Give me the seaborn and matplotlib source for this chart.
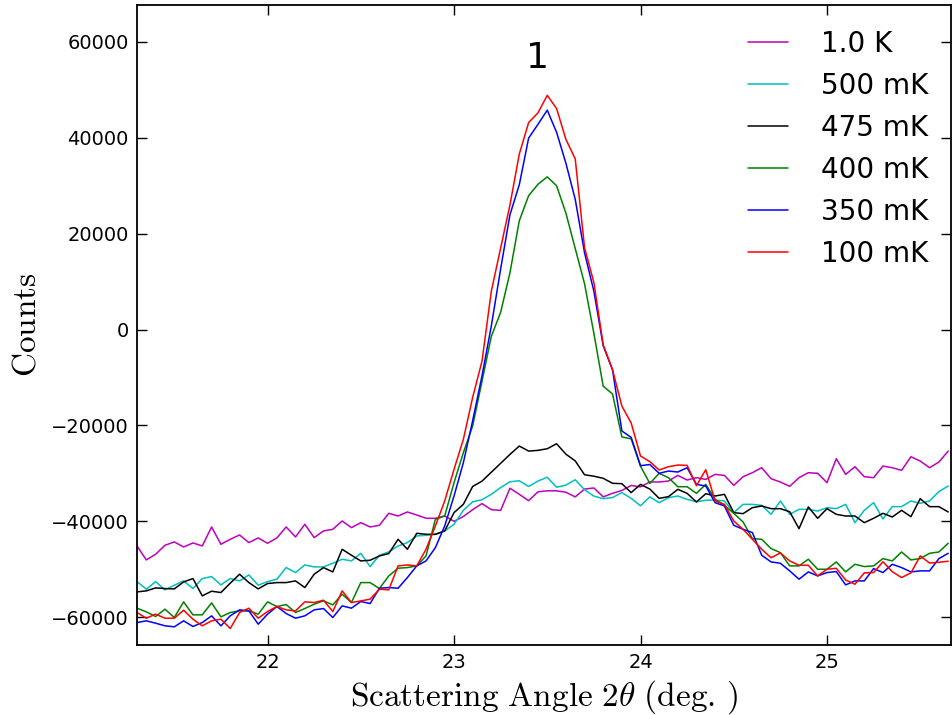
import numpy as np
import pandas as pd
import seaborn as sns
import matplotlib
matplotlib.use("Agg")
import matplotlib.pyplot as plt

# scattering angle grid (deg.), 0.05 deg steps
angle = np.round(np.arange(88) * 0.05 + 21.30, 2)

labels = ['1.0 K', '500 mK', '475 mK', '400 mK', '350 mK', '100 mK']
colors = ['m', 'c', 'k', 'g', 'b', 'r']

t_1000 = [-45140, -48050, -46870, -45000, -44300, -45350, -44510, -45140, -41180, -44790,
          -43750, -42850, -44440, -43470, -44580, -43470, -41180, -43260, -40620, -43400,
          -42010, -41670, -39930, -41320, -40280, -41180, -40830, -38330, -38890, -38050,
          -38680, -39370, -39370, -38890, -40000, -39000, -37570, -36300, -37570, -37720,
          -33100, -34370, -35700, -33850, -33640, -33640, -33940, -34900, -33270, -33050,
          -34900, -34160, -33570, -32520, -32820, -31780, -31800, -31600, -30420, -31390,
          -30900, -31250, -30210, -30420, -32500, -30690, -29860, -28820, -31110, -31800,
          -32700, -30900, -29860, -29990, -31940, -26940, -30210, -28610, -30690, -30900,
          -28470, -28820, -29370, -26530, -27430, -28820, -27640, -25350]

t_500 = [-52570, -54160, -52570, -54300, -53330, -52430, -54030, -51940, -51530, -53260,
         -51940, -52430, -51180, -53330, -52570, -52080, -49650, -50690, -49100, -49510,
         -49510, -48750, -47920, -48260, -46670, -49440, -47080, -46390, -45140, -44440,
         -43050, -42920, -42710, -42010, -40620, -37710, -35940, -35490, -34370, -32950,
         -31760, -31540, -32730, -31610, -30810, -32890, -32450, -31330, -33410, -34750,
         -35270, -35050, -34010, -35200, -36760, -34900, -36110, -35070, -34720, -35420,
         -35900, -35620, -35550, -35760, -38190, -36460, -36460, -36670, -38540, -35760,
         -38540, -37500, -37500, -37850, -37150, -37360, -36460, -40280, -37710, -36110,
         -39500, -36940, -36940, -35760, -36250, -35760, -33800, -32640]

t_475 = [-54720, -54510, -53890, -54030, -54100, -52640, -51940, -55550, -54580, -54860,
         -52910, -51040, -52780, -54100, -52980, -52780, -52780, -52430, -53820, -51040,
         -49650, -50550, -45830, -47080, -48260, -48120, -47220, -46730, -43750, -45830,
         -42500, -42710, -42710, -42010, -38190, -36460, -32730, -31620, -29760, -27900,
         -26040, -24300, -25350, -25200, -24860, -23820, -26000, -27400, -30290, -30590,
         -31030, -32070, -32150, -34010, -32300, -33270, -35210, -34860, -33330, -34170,
         -35970, -34240, -34720, -34370, -38190, -38400, -37150, -36800, -37360, -37360,
         -38000, -41530, -37010, -39370, -37360, -38540, -38890, -38890, -40280, -39370,
         -38330, -39100, -37710, -39030, -35280, -36940, -36940, -38050]

t_400 = [-58120, -58890, -59860, -58330, -60070, -56800, -59510, -59510, -57010, -59930,
         -59030, -58680, -58680, -59370, -56800, -57780, -57360, -59030, -58190, -57290,
         -56600, -57430, -55210, -56940, -52780, -52780, -54030, -51390, -49790, -49650,
         -49300, -47220, -39580, -38890, -31940, -25690, -20100, -10800, -1430, 3600,
         11850, 22700, 27910, 30300, 31850, 30000, 24280, 16900, 9540, -800,
         -11820, -13430, -22400, -22800, -28500, -32100, -30000, -30900, -32780, -32780,
         -34170, -32290, -35420, -36670, -38330, -40140, -43610, -43750, -45690, -46530,
         -49300, -49300, -47910, -50000, -50000, -48470, -50550, -48960, -49440, -49300,
         -47780, -48260, -46390, -48050, -47780, -46670, -46390, -44580]

t_350 = [-61110, -60760, -61250, -61800, -62010, -60760, -61940, -61110, -59720, -61800,
         -59720, -58470, -58680, -61460, -59370, -57780, -59230, -60210, -59720, -58470,
         -58190, -60070, -57640, -58120, -56730, -57150, -53960, -53820, -53960, -51730,
         -49300, -48260, -45490, -40970, -34720, -27780, -19000, -9670, 750, 12650,
         23960, 30210, 39930, 42800, 45760, 41150, 34690, 27150, 16000, 8000,
         -3380, -8400, -21150, -22500, -28400, -28150, -29990, -29510, -29720, -28820,
         -32290, -32640, -36110, -36800, -40830, -41670, -42360, -47080, -48470, -48750,
         -50340, -52080, -50550, -51390, -50690, -50480, -53260, -52430, -52430, -49860,
         -50690, -48960, -49650, -50550, -50340, -50340, -47780, -46670]

t_100 = [-59030, -60210, -59370, -60210, -60210, -58540, -60420, -61800, -60760, -60420,
         -62360, -59030, -58120, -60210, -58820, -57780, -58470, -58680, -56800, -56940,
         -56460, -58820, -54510, -56940, -56600, -56250, -54160, -54300, -49300, -49100,
         -49300, -45830, -40970, -35760, -29170, -22920, -14130, -6600, 8000, 17000,
         26000, 36600, 43170, 45200, 48850, 46100, 39680, 35600, 17080, 9800,
         -3200, -8400, -15950, -19500, -26380, -27550, -29300, -28610, -28260, -28330,
         -32570, -29230, -35760, -36460, -39930, -41670, -43750, -45830, -47600, -46600,
         -48260, -49170, -49170, -51390, -50000, -49800, -52250, -53120, -50760, -50700,
         -48430, -50500, -51730, -50760, -47220, -48700, -48540, -48330]

series = [t_1000, t_500, t_475, t_400, t_350, t_100]

frames = []
for lab, vals in zip(labels, series):
    frames.append(pd.DataFrame({'angle': angle, 'counts': vals, 'T': lab}))
df = pd.concat(frames, ignore_index=True)

sns.set_style("ticks", {"xtick.direction": "in", "ytick.direction": "in"})
plt.rcParams['font.family'] = ['DejaVu Sans']
plt.rcParams['mathtext.fontset'] = 'cm'
plt.rcParams['text.color'] = 'black'
plt.rcParams['axes.labelcolor'] = 'black'

fig = plt.figure(figsize=(9.52, 7.15), dpi=100)
ax = fig.add_axes([137 / 952, 1 - 645 / 715, 814 / 952, 640 / 715])

sns.lineplot(data=df, x='angle', y='counts', hue='T', hue_order=labels,
             palette=dict(zip(labels, colors)), estimator=None, sort=False,
             linewidth=1.1, ax=ax)

ax.set_xlim(21.30, 25.665)
ax.set_ylim(-65800, 67700)
ax.set_xticks([22, 23, 24, 25])
ax.set_yticks([-60000, -40000, -20000, 0, 20000, 40000, 60000])
ax.tick_params(which='both', direction='in', top=True, right=True,
               length=7, width=1, labelsize=14, pad=6, colors='black')
for s in ax.spines.values():
    s.set_linewidth(1.3)
    s.set_color('black')

ax.set_xlabel(r'$\mathrm{Scattering\ Angle\ 2}\theta\ \mathrm{(deg.\,)}$', fontsize=24, labelpad=4)
ax.set_ylabel(r'$\mathrm{Counts}$', fontsize=24, labelpad=6)

ax.text(23.445, 54600, '1', fontsize=26, ha='center', va='baseline')

ax.legend(loc='upper right', bbox_to_anchor=(0.9863, 0.978), borderaxespad=0,
          frameon=False, fontsize=20, handlelength=1.45, handletextpad=1.2,
          labelspacing=0.5, labelcolor='black', title=None)

fig.savefig('out.png', dpi=100)
